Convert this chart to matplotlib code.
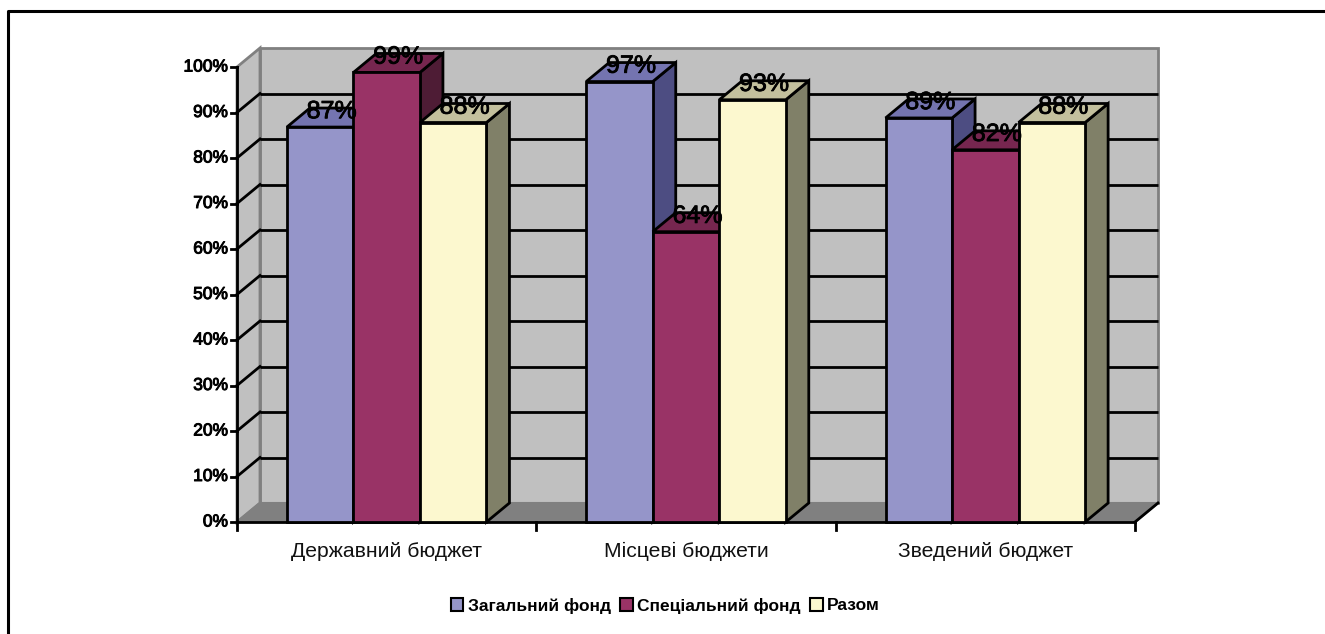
import matplotlib
matplotlib.use('Agg')
import matplotlib.pyplot as plt
import matplotlib.patheffects as pe
from matplotlib.patches import Polygon, Patch
from matplotlib.lines import Line2D

plt.rcParams['font.family'] = ['Liberation Sans', 'DejaVu Sans']

categorias = ['Державний бюджет', 'Місцеві бюджети', 'Зведений бюджет']
series = ['Загальний фонд', 'Спеціальний фонд', 'Разом']
zagalnyi = [87, 97, 89]
spetsialnyi = [99, 64, 82]
razom = [88, 93, 88]
valores = [zagalnyi, spetsialnyi, razom]

# cara frontal, tapa, lateral
colores = [('#9595C9', '#7474B0', '#4D4D82'),
           ('#993366', '#76264F', '#4E1C35'),
           ('#FCF8CF', '#C3C09D', '#808068')]

W, H = 1325, 634
fig = plt.figure(figsize=(W / 100, H / 100), dpi=100, facecolor='white')
# el plano frontal del grafico 3D
ax = fig.add_axes([237 / W, 1 - 522 / H, 898 / W, 455 / H])
ax.set_xlim(0, 3)
ax.set_ylim(0, 100)
ax.axis('off')

# profundidad del efecto 3D en unidades de datos
dx = 23 / (898 / 3)
dy = 19 / 4.55
ancho = 2 / 9
hueco = 1 / 6


def poly(puntos, color, borde='black', lw=2.0, z=2):
    ax.add_patch(Polygon(puntos, closed=True, facecolor=color, edgecolor=borde,
                         linewidth=lw, zorder=z, clip_on=False, joinstyle='miter'))


# paredes y piso
poly([(dx, dy), (3 + dx, dy), (3 + dx, 100 + dy), (dx, 100 + dy)], '#C0C0C0', '#808080', 2, 1)
poly([(0, 0), (dx, dy), (dx, 100 + dy), (0, 100)], '#C0C0C0', '#808080', 2, 1)
poly([(0, 0), (3, 0), (3 + dx, dy), (dx, dy)], '#808080', '#808080', 1.5, 1)

# rejilla (la linea de 100% queda gris, es el borde de la pared)
for v in range(10, 100, 10):
    ax.plot([dx, 3 + dx], [v + dy, v + dy], color='black', lw=2, zorder=1.5,
            clip_on=False, solid_capstyle='butt')
    ax.plot([0, dx], [v, v + dy], color='black', lw=2, zorder=1.5, clip_on=False)
ax.plot([3, 3 + dx], [0, dy], color='black', lw=2, zorder=1.5, clip_on=False)

# ejes
ax.plot([0, 0], [0, 100], color='black', lw=2, zorder=1.6, clip_on=False)
ax.plot([0, 3], [0, 0], color='black', lw=2, zorder=1.6, clip_on=False)
for v in range(0, 101, 10):
    ax.plot([-6 / (898 / 3), 0], [v, v], color='black', lw=2, zorder=1.6, clip_on=False)
    ax.text(-9 / (898 / 3), v, f'{v}%', ha='right', va='center', fontsize=12.5,
            color='black', path_effects=[pe.withStroke(linewidth=0.7, foreground='black')])
for i in range(4):
    ax.plot([i, i], [0, -8 / 4.55], color='black', lw=2, zorder=1.6, clip_on=False)
for i, nombre in enumerate(categorias):
    ax.text(i + 0.5, -6.5, nombre, ha='center', va='center', fontsize=15.2, color='#111111')

# barras, de izquierda a derecha
z = 3
for i in range(3):
    for s in range(3):
        v = valores[s][i] - 0.2
        x0 = i + hueco + s * ancho
        x1 = x0 + ancho
        cara, tapa, lado = colores[s]
        poly([(x1, 0), (x1 + dx, dy), (x1 + dx, v + dy), (x1, v)], lado, z=z)
        poly([(x0, v), (x1, v), (x1 + dx, v + dy), (x0 + dx, v + dy)], tapa, z=z)
        poly([(x0, 0), (x1, 0), (x1, v), (x0, v)], cara, z=z + 0.5)
        z += 1

# etiquetas de datos encima de todo
for i in range(3):
    for s in range(3):
        v = valores[s][i]
        xc = i + hueco + (s + 0.5) * ancho + dx * 0.5
        ax.text(xc, v + dy - 0.9, f'{v}%', ha='center', va='center', fontsize=18,
                color='black', zorder=50,
                path_effects=[pe.withStroke(linewidth=0.6, foreground='black')])

# leyenda
handles = [Patch(facecolor=colores[s][0], edgecolor='black', linewidth=1.5, label=series[s])
           for s in range(3)]
fig.legend(handles=handles, ncol=3, loc='center', bbox_to_anchor=(665.5 / W, 1 - 605.5 / H),
           frameon=False, handlelength=0.72, handleheight=0.72, handletextpad=0.25,
           columnspacing=0.55, prop={'size': 12.5, 'weight': 'bold'})

# marco exterior
fig.add_artist(Line2D([8 / W, 8 / W, 1], [0, 1 - 11 / H, 1 - 11 / H], color='black', lw=2.2))

fig.savefig('out.png', dpi=100)
